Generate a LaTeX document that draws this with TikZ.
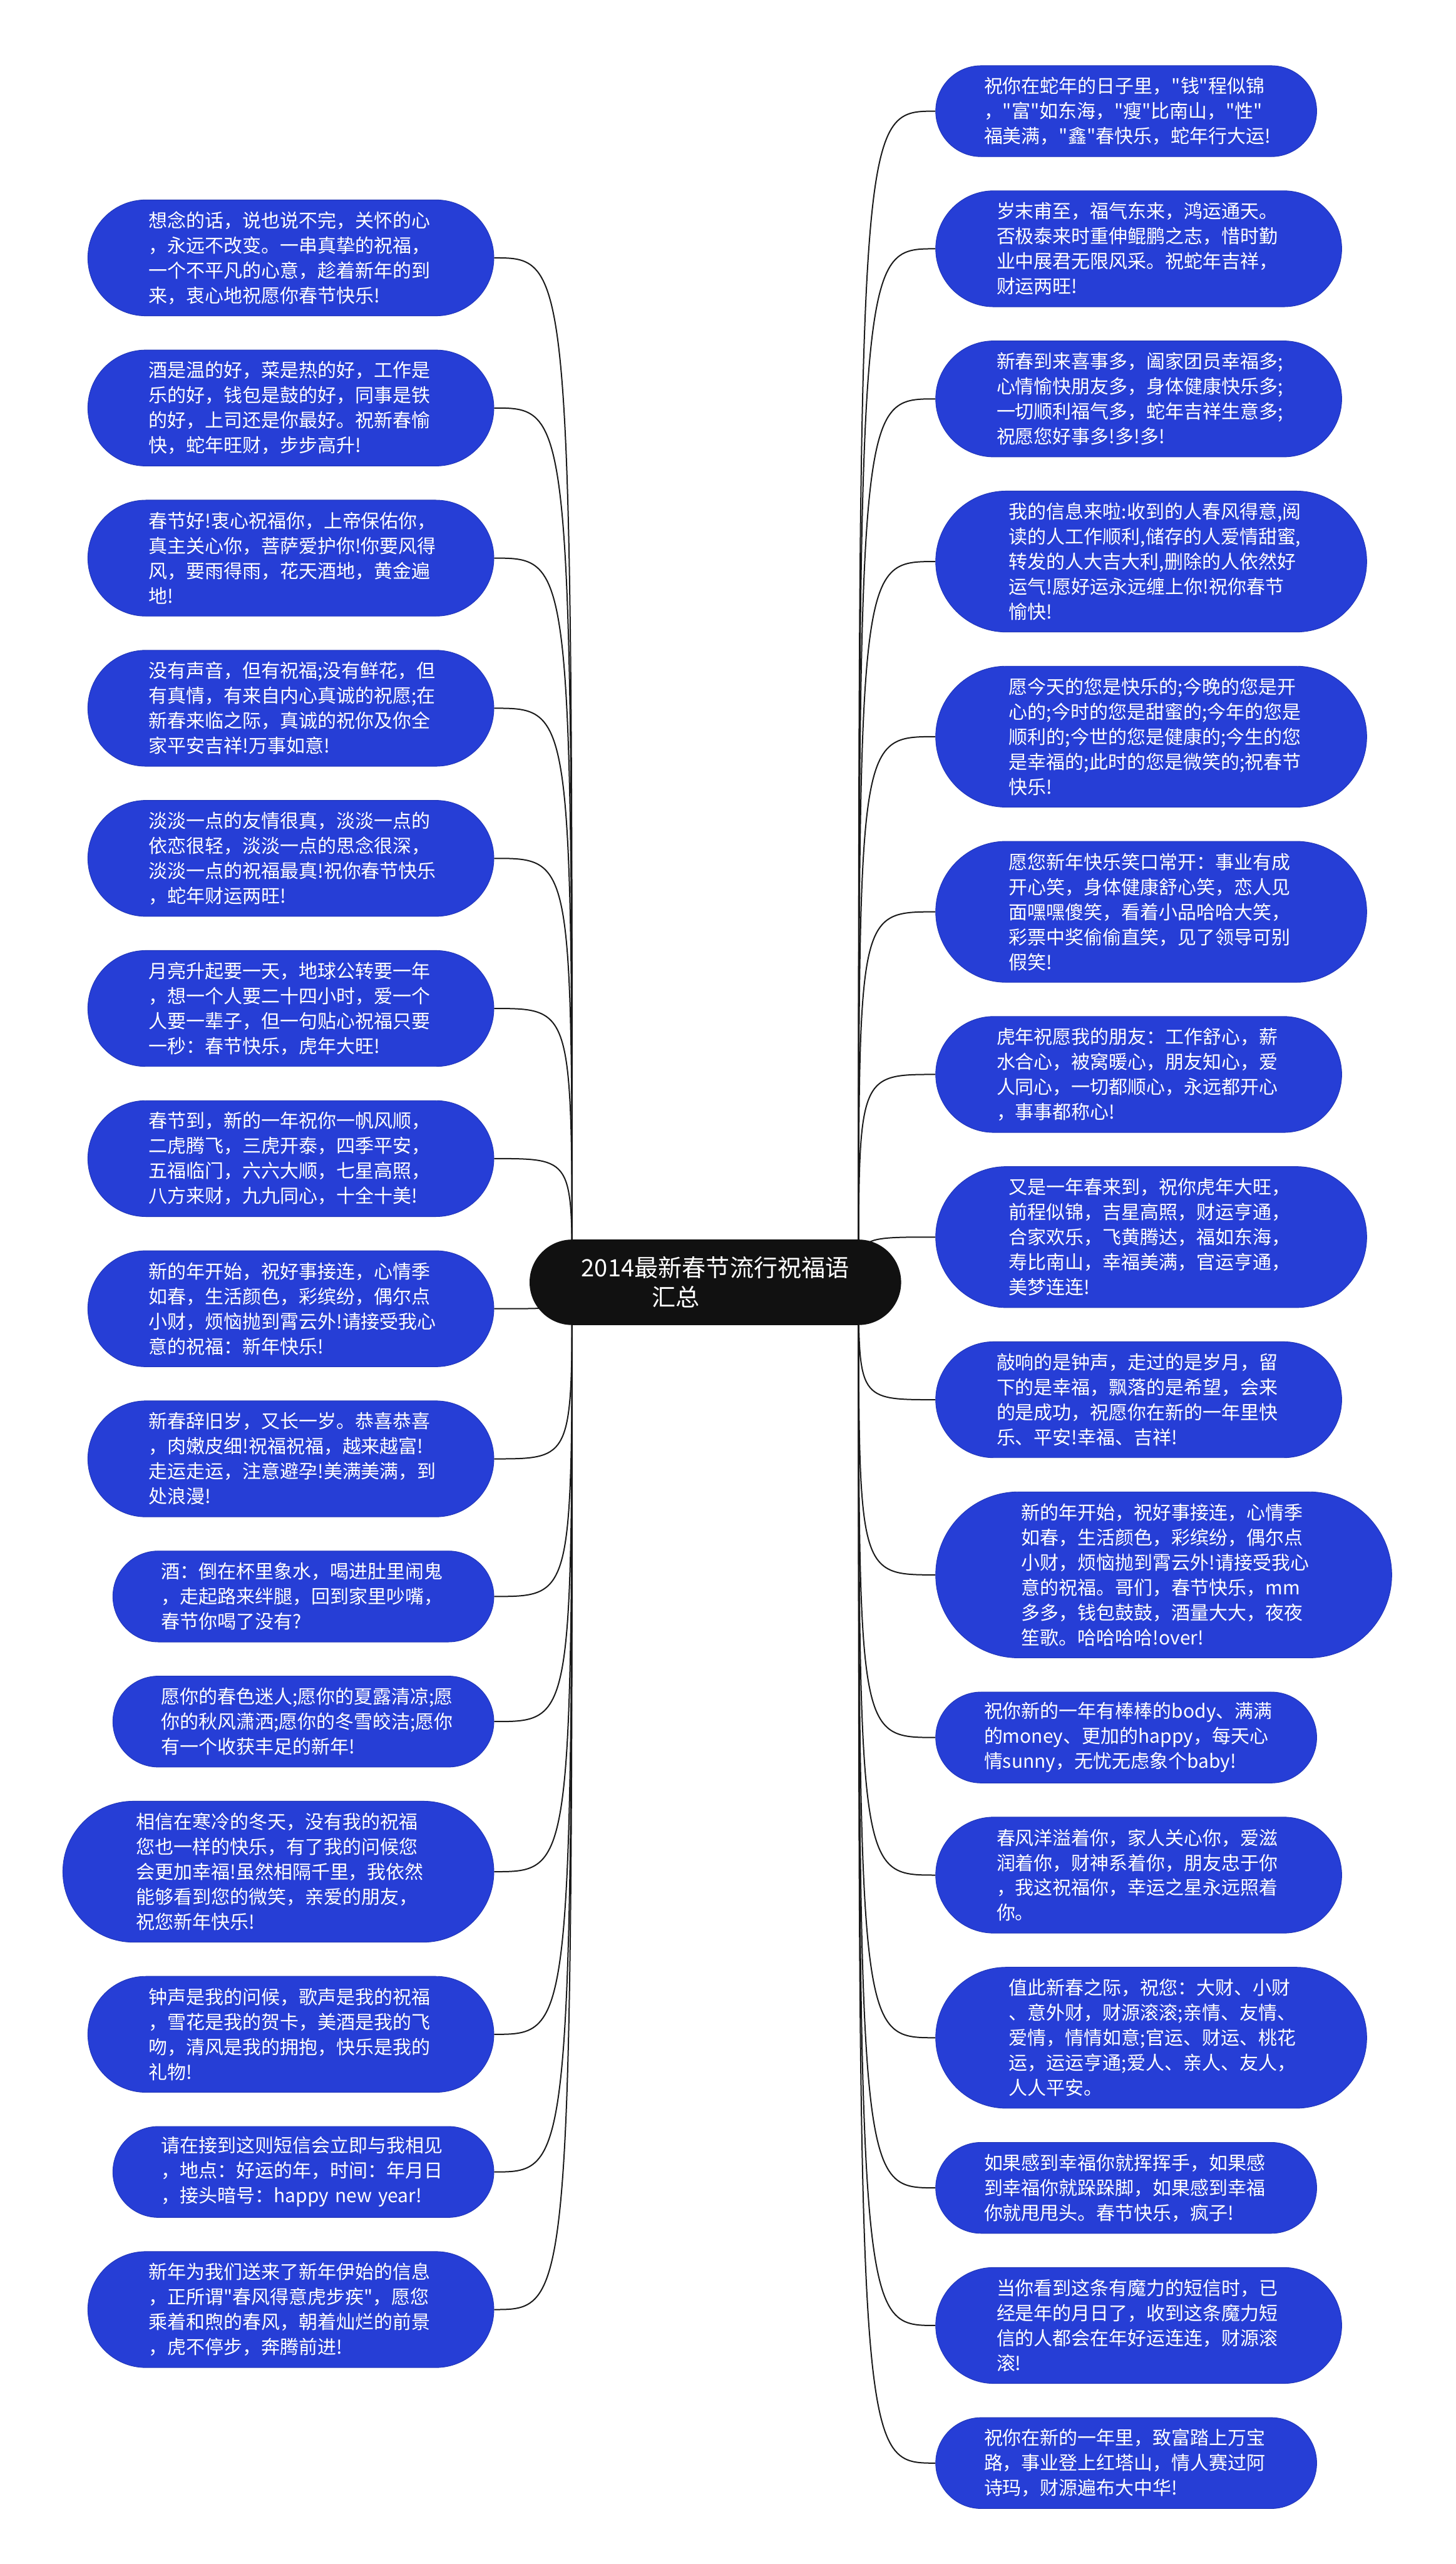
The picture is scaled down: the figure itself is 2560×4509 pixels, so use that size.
\documentclass[tikz,border=0pt]{standalone}
\usepackage{fontspec}
\newfontfamily\cjk{Noto Sans CJK SC}
\usetikzlibrary{positioning,calc,shapes.misc,backgrounds}
\definecolor{wishblue}{RGB}{38,62,214}
\definecolor{hubblack}{RGB}{17,17,17}
\definecolor{linkblack}{RGB}{26,26,26}
\tikzset{
  wish/.style={rectangle,draw=wishblue!85!black,line width=1pt,fill=wishblue,text=white,
    font=\cjk\fontsize{33pt}{44pt}\selectfont,text width=500pt,align=left,inner ysep=0pt},
  nlines/.style={wish,minimum height={#1*44pt+28pt},rounded corners={#1*22pt+14pt},inner xsep={#1*22pt+19pt}},
  hub/.style={rounded rectangle,fill=hubblack,text=white,
    font=\cjk\fontsize{42pt}{52pt}\selectfont,align=left,inner xsep=76pt,inner ysep=30pt},
  link/.style={draw=linkblack,line width=2.2pt}
}
\begin{document}
\begin{tikzpicture}
\useasboundingbox (0,0) rectangle (2560pt,-4509pt);
\node[hub] (hub) at (1258pt,-2255pt) {2014最新春节流行祝福语\\\hspace*{124pt}汇总};
% left column
\node[nlines=4,anchor=north east] (l1) at (869pt,-351pt) {想念的话，说也说不完，关怀的心\\，永远不改变。一串真挚的祝福，\\一个不平凡的心意，趁着新年的到\\来，衷心地祝愿你春节快乐!};
\node[nlines=4,below=59pt of l1.south east,anchor=north east] (l2) {酒是温的好，菜是热的好，工作是\\乐的好，钱包是鼓的好，同事是铁\\的好，上司还是你最好。祝新春愉\\快，蛇年旺财，步步高升!};
\node[nlines=4,below=59pt of l2.south east,anchor=north east] (l3) {春节好!衷心祝福你，上帝保佑你，\\真主关心你，菩萨爱护你!你要风得\\风，要雨得雨，花天酒地，黄金遍\\地!};
\node[nlines=4,below=59pt of l3.south east,anchor=north east] (l4) {没有声音，但有祝福;没有鲜花，但\\有真情，有来自内心真诚的祝愿;在\\新春来临之际，真诚的祝你及你全\\家平安吉祥!万事如意!};
\node[nlines=4,below=59pt of l4.south east,anchor=north east] (l5) {淡淡一点的友情很真，淡淡一点的\\依恋很轻，淡淡一点的思念很深，\\淡淡一点的祝福最真!祝你春节快乐\\，蛇年财运两旺!};
\node[nlines=4,below=59pt of l5.south east,anchor=north east] (l6) {月亮升起要一天，地球公转要一年\\，想一个人要二十四小时，爱一个\\人要一辈子，但一句贴心祝福只要\\一秒：春节快乐，虎年大旺!};
\node[nlines=4,below=59pt of l6.south east,anchor=north east] (l7) {春节到，新的一年祝你一帆风顺，\\二虎腾飞，三虎开泰，四季平安，\\五福临门，六六大顺，七星高照，\\八方来财，九九同心，十全十美!};
\node[nlines=4,below=59pt of l7.south east,anchor=north east] (l8) {新的年开始，祝好事接连，心情季\\如春，生活颜色，彩缤纷，偶尔点\\小财，烦恼抛到霄云外!请接受我心\\意的祝福：新年快乐!};
\node[nlines=4,below=59pt of l8.south east,anchor=north east] (l9) {新春辞旧岁，又长一岁。恭喜恭喜\\，肉嫩皮细!祝福祝福，越来越富!\\走运走运，注意避孕!美满美满，到\\处浪漫!};
\node[nlines=3,below=59pt of l9.south east,anchor=north east] (l10) {酒：倒在杯里象水，喝进肚里闹鬼\\，走起路来绊腿，回到家里吵嘴，\\春节你喝了没有?};
\node[nlines=3,below=59pt of l10.south east,anchor=north east] (l11) {愿你的春色迷人;愿你的夏露清凉;愿\\你的秋风潇洒;愿你的冬雪皎洁;愿你\\有一个收获丰足的新年!};
\node[nlines=5,below=59pt of l11.south east,anchor=north east] (l12) {相信在寒冷的冬天，没有我的祝福\\您也一样的快乐，有了我的问候您\\会更加幸福!虽然相隔千里，我依然\\能够看到您的微笑，亲爱的朋友，\\祝您新年快乐!};
\node[nlines=4,below=59pt of l12.south east,anchor=north east] (l13) {钟声是我的问候，歌声是我的祝福\\，雪花是我的贺卡，美酒是我的飞\\吻，清风是我的拥抱，快乐是我的\\礼物!};
\node[nlines=3,below=59pt of l13.south east,anchor=north east] (l14) {请在接到这则短信会立即与我相见\\，地点：好运的年，时间：年月日\\，接头暗号：happy new year!};
\node[nlines=4,below=59pt of l14.south east,anchor=north east] (l15) {新年为我们送来了新年伊始的信息\\，正所谓"春风得意虎步疾"，愿您\\乘着和煦的春风，朝着灿烂的前景\\，虎不停步，奔腾前进!};
% right column
\node[nlines=3,anchor=north west] (r1) at (1645pt,-115pt) {祝你在蛇年的日子里，"钱"程似锦\\，"富"如东海，"瘦"比南山，"性"\\福美满，"鑫"春快乐，蛇年行大运!};
\node[nlines=4,below=59pt of r1.south west,anchor=north west] (r2) {岁末甫至，福气东来，鸿运通天。\\否极泰来时重伸鲲鹏之志，惜时勤\\业中展君无限风采。祝蛇年吉祥，\\财运两旺!};
\node[nlines=4,below=59pt of r2.south west,anchor=north west] (r3) {新春到来喜事多，阖家团员幸福多;\\心情愉快朋友多，身体健康快乐多;\\一切顺利福气多，蛇年吉祥生意多;\\祝愿您好事多!多!多!};
\node[nlines=5,below=59pt of r3.south west,anchor=north west] (r4) {我的信息来啦:收到的人春风得意,阅\\读的人工作顺利,储存的人爱情甜蜜,\\转发的人大吉大利,删除的人依然好\\运气!愿好运永远缠上你!祝你春节\\愉快!};
\node[nlines=5,below=59pt of r4.south west,anchor=north west] (r5) {愿今天的您是快乐的;今晚的您是开\\心的;今时的您是甜蜜的;今年的您是\\顺利的;今世的您是健康的;今生的您\\是幸福的;此时的您是微笑的;祝春节\\快乐!};
\node[nlines=5,below=59pt of r5.south west,anchor=north west] (r6) {愿您新年快乐笑口常开：事业有成\\开心笑，身体健康舒心笑，恋人见\\面嘿嘿傻笑，看着小品哈哈大笑，\\彩票中奖偷偷直笑，见了领导可别\\假笑!};
\node[nlines=4,below=59pt of r6.south west,anchor=north west] (r7) {虎年祝愿我的朋友：工作舒心，薪\\水合心，被窝暖心，朋友知心，爱\\人同心，一切都顺心，永远都开心\\，事事都称心!};
\node[nlines=5,below=59pt of r7.south west,anchor=north west] (r8) {又是一年春来到，祝你虎年大旺，\\前程似锦，吉星高照，财运亨通，\\合家欢乐，飞黄腾达，福如东海，\\寿比南山，幸福美满，官运亨通，\\美梦连连!};
\node[nlines=4,below=59pt of r8.south west,anchor=north west] (r9) {敲响的是钟声，走过的是岁月，留\\下的是幸福，飘落的是希望，会来\\的是成功，祝愿你在新的一年里快\\乐、平安!幸福、吉祥!};
\node[nlines=6,below=59pt of r9.south west,anchor=north west] (r10) {新的年开始，祝好事接连，心情季\\如春，生活颜色，彩缤纷，偶尔点\\小财，烦恼抛到霄云外!请接受我心\\意的祝福。哥们，春节快乐，mm\\多多，钱包鼓鼓，酒量大大，夜夜\\笙歌。哈哈哈哈!over!};
\node[nlines=3,below=59pt of r10.south west,anchor=north west] (r11) {祝你新的一年有棒棒的body、满满\\的money、更加的happy，每天心\\情sunny，无忧无虑象个baby!};
\node[nlines=4,below=59pt of r11.south west,anchor=north west] (r12) {春风洋溢着你，家人关心你，爱滋\\润着你，财神系着你，朋友忠于你\\，我这祝福你，幸运之星永远照着\\你。};
\node[nlines=5,below=59pt of r12.south west,anchor=north west] (r13) {值此新春之际，祝您：大财、小财\\、意外财，财源滚滚;亲情、友情、\\爱情，情情如意;官运、财运、桃花\\运，运运亨通;爱人、亲人、友人，\\人人平安。};
\node[nlines=3,below=59pt of r13.south west,anchor=north west] (r14) {如果感到幸福你就挥挥手，如果感\\到幸福你就跺跺脚，如果感到幸福\\你就甩甩头。春节快乐，疯子!};
\node[nlines=4,below=59pt of r14.south west,anchor=north west] (r15) {当你看到这条有魔力的短信时，已\\经是年的月日了，收到这条魔力短\\信的人都会在年好运连连，财源滚\\滚!};
\node[nlines=3,below=59pt of r15.south west,anchor=north west] (r16) {祝你在新的一年里，致富踏上万宝\\路，事业登上红塔山，情人赛过阿\\诗玛，财源遍布大中华!};
% connectors
\coordinate (hubL) at ($(hub.west)+(75pt,0)$);
\coordinate (hubR) at ($(hub.east)+(-75pt,0)$);
\begin{scope}[on background layer]
\fill[white] (0,0) rectangle (2560pt,-4509pt);
\foreach \n in {l1,l2,l3,l4,l5,l6,l7,l8,l9,l10,l11,l12,l13,l14,l15}
  \draw[link] (hubL) .. controls (hubL |- \n.east) .. (\n.east);
\foreach \n in {r1,r2,r3,r4,r5,r6,r7,r8,r9,r10,r11,r12,r13,r14,r15,r16}
  \draw[link] (hubR) .. controls (hubR |- \n.west) .. (\n.west);
\end{scope}
\end{tikzpicture}
\end{document}
